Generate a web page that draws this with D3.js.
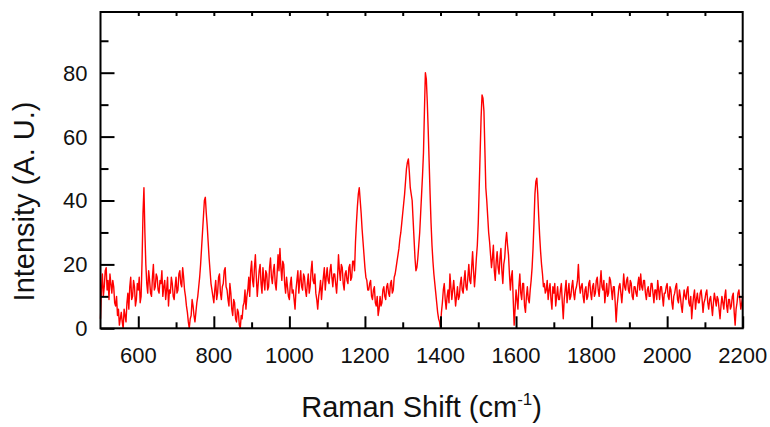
<!DOCTYPE html>
<html>
<head>
<meta charset="utf-8">
<script src="https://cdn.jsdelivr.net/npm/d3@7/dist/d3.min.js"></script>
<style>
  html, body { margin: 0; padding: 0; background: #fff; }
  svg { display: block; }
  text { font-family: "Liberation Sans", Arial, sans-serif; fill: #111; }
</style>
</head>
<body>
<svg id="chart" width="770" height="427"></svg>
<script>
// Raman shift samples (cm^-1)
const shift = [
  500,502.5,505,507.5,510,512.5,515,517.5,520,522.5,525,527.5,530,532.5,535,537.5,540,542.5,545,547.5,550,552.5,555,557.5,560,562.5,565,567.5,570,572.5,575,577.5,580,582.5,585,587.5,590,592.5,595,597.5,
  600,602.5,605,607.5,610,612.5,615,617.5,620,622.5,625,627.5,630,632.5,635,637.5,640,642.5,645,647.5,650,652.5,655,657.5,660,662.5,665,667.5,670,672.5,675,677.5,680,682.5,685,687.5,690,692.5,695,697.5,
  700,702.5,705,707.5,710,712.5,715,717.5,720,722.5,725,727.5,730,732.5,735,737.5,740,742.5,745,747.5,750,752.5,755,757.5,760,762.5,765,767.5,770,772.5,775,777.5,780,782.5,785,787.5,790,792.5,795,797.5,
  800,802.5,805,807.5,810,812.5,815,817.5,820,822.5,825,827.5,830,832.5,835,837.5,840,842.5,845,847.5,850,852.5,855,857.5,860,862.5,865,867.5,870,872.5,875,877.5,880,882.5,885,887.5,890,892.5,895,897.5,
  900,902.5,905,907.5,910,912.5,915,917.5,920,922.5,925,927.5,930,932.5,935,937.5,940,942.5,945,947.5,950,952.5,955,957.5,960,962.5,965,967.5,970,972.5,975,977.5,980,982.5,985,987.5,990,992.5,995,997.5,
  1000,1002.5,1005,1007.5,1010,1012.5,1015,1017.5,1020,1022.5,1025,1027.5,1030,1032.5,1035,1037.5,1040,1042.5,1045,1047.5,1050,1052.5,1055,1057.5,1060,1062.5,1065,1067.5,1070,1072.5,1075,1077.5,1080,1082.5,1085,1087.5,1090,1092.5,1095,1097.5,
  1100,1102.5,1105,1107.5,1110,1112.5,1115,1117.5,1120,1122.5,1125,1127.5,1130,1132.5,1135,1137.5,1140,1142.5,1145,1147.5,1150,1152.5,1155,1157.5,1160,1162.5,1165,1167.5,1170,1172.5,1175,1177.5,1180,1182.5,1185,1187.5,1190,1192.5,1195,1197.5,
  1200,1202.5,1205,1207.5,1210,1212.5,1215,1217.5,1220,1222.5,1225,1227.5,1230,1232.5,1235,1237.5,1240,1242.5,1245,1247.5,1250,1252.5,1255,1257.5,1260,1262.5,1265,1267.5,1270,1272.5,1275,1277.5,1280,1282.5,1285,1287.5,1290,1292.5,1295,1297.5,
  1300,1302.5,1305,1307.5,1310,1312.5,1315,1317.5,1320,1322.5,1325,1327.5,1330,1332.5,1335,1337.5,1340,1342.5,1345,1347.5,1350,1352.5,1355,1357.5,1360,1362.5,1365,1367.5,1370,1372.5,1375,1377.5,1380,1382.5,1385,1387.5,1390,1392.5,1395,1397.5,
  1400,1402.5,1405,1407.5,1410,1412.5,1415,1417.5,1420,1422.5,1425,1427.5,1430,1432.5,1435,1437.5,1440,1442.5,1445,1447.5,1450,1452.5,1455,1457.5,1460,1462.5,1465,1467.5,1470,1472.5,1475,1477.5,1480,1482.5,1485,1487.5,1490,1492.5,1495,1497.5,
  1500,1502.5,1505,1507.5,1510,1512.5,1515,1517.5,1520,1522.5,1525,1527.5,1530,1532.5,1535,1537.5,1540,1542.5,1545,1547.5,1550,1552.5,1555,1557.5,1560,1562.5,1565,1567.5,1570,1572.5,1575,1577.5,1580,1582.5,1585,1587.5,1590,1592.5,1595,1597.5,
  1600,1602.5,1605,1607.5,1610,1612.5,1615,1617.5,1620,1622.5,1625,1627.5,1630,1632.5,1635,1637.5,1640,1642.5,1645,1647.5,1650,1652.5,1655,1657.5,1660,1662.5,1665,1667.5,1670,1672.5,1675,1677.5,1680,1682.5,1685,1687.5,1690,1692.5,1695,1697.5,
  1700,1702.5,1705,1707.5,1710,1712.5,1715,1717.5,1720,1722.5,1725,1727.5,1730,1732.5,1735,1737.5,1740,1742.5,1745,1747.5,1750,1752.5,1755,1757.5,1760,1762.5,1765,1767.5,1770,1772.5,1775,1777.5,1780,1782.5,1785,1787.5,1790,1792.5,1795,1797.5,
  1800,1802.5,1805,1807.5,1810,1812.5,1815,1817.5,1820,1822.5,1825,1827.5,1830,1832.5,1835,1837.5,1840,1842.5,1845,1847.5,1850,1852.5,1855,1857.5,1860,1862.5,1865,1867.5,1870,1872.5,1875,1877.5,1880,1882.5,1885,1887.5,1890,1892.5,1895,1897.5,
  1900,1902.5,1905,1907.5,1910,1912.5,1915,1917.5,1920,1922.5,1925,1927.5,1930,1932.5,1935,1937.5,1940,1942.5,1945,1947.5,1950,1952.5,1955,1957.5,1960,1962.5,1965,1967.5,1970,1972.5,1975,1977.5,1980,1982.5,1985,1987.5,1990,1992.5,1995,1997.5,
  2000,2002.5,2005,2007.5,2010,2012.5,2015,2017.5,2020,2022.5,2025,2027.5,2030,2032.5,2035,2037.5,2040,2042.5,2045,2047.5,2050,2052.5,2055,2057.5,2060,2062.5,2065,2067.5,2070,2072.5,2075,2077.5,2080,2082.5,2085,2087.5,2090,2092.5,2095,2097.5,
  2100,2102.5,2105,2107.5,2110,2112.5,2115,2117.5,2120,2122.5,2125,2127.5,2130,2132.5,2135,2137.5,2140,2142.5,2145,2147.5,2150,2152.5,2155,2157.5,2160,2162.5,2165,2167.5,2170,2172.5,2175,2177.5,2180,2182.5,2185,2187.5,2190,2192.5,2195,2197.5,
  2200
];

// Intensity (A. U.)
const intensity = [
  3,12,17,10,13,18,19,12,15,9,17,14,11,15,13,8,7,10,4,6,1,3,5,2,0,6,4,2,8,11,6,13,16,9,10,15,13,7,9,14,
  12,16,8,10,21,36,44,30,20,14,11,18,15,11,10,16,20,12,13,17,16,12,11,15,14,18,10,13,15,9,12,16,7,12,11,16,14,10,9,13,
  16,11,12,17,18,14,13,19,16,12,10,7,5,2,0,3,4,9,7,4,2,5,8,10,13,16,20,25,30,35,40,41,36,32,27,22,18,14,12,10,
  8,12,15,9,11,16,17,11,9,13,14,18,19,13,12,9,7,14,11,6,4,9,8,3,2,6,5,1,0,4,3,7,8,12,6,10,12,16,10,18,
  21,15,13,19,23,16,10,14,18,20,14,11,19,15,12,18,17,12,13,19,22,16,14,18,20,14,12,17,23,18,25,19,15,21,20,14,11,16,13,10,
  9,14,16,11,12,9,6,12,15,18,11,15,18,13,12,17,16,12,10,14,17,11,13,18,21,15,14,17,11,9,6,10,12,15,9,13,16,19,12,16,
  19,15,14,18,20,16,13,17,17,14,11,16,23,18,15,20,19,14,12,17,18,15,14,19,20,15,16,21,21,18,27,33,38,42,44,40,36,31,27,23,
  19,16,15,12,12,14,15,10,9,12,13,8,7,10,4,6,10,7,8,12,13,10,9,13,14,11,10,14,15,11,12,16,17,19,21,23,25,28,30,33,
  36,39,42,46,50,52,53,49,44,42,40,34,28,22,18,19,22,26,30,36,42,48,55,68,80,78,71,62,52,42,33,26,21,17,14,11,8,5,3,2,
  0,5,8,12,14,9,6,10,12,8,17,13,9,12,15,11,7,10,13,9,10,14,16,12,11,15,18,13,12,16,20,15,14,19,24,18,13,17,22,26,
  33,44,55,66,73,72,68,56,44,40,35,30,27,23,19,22,26,18,15,21,24,19,17,22,25,18,14,20,22,27,30,26,23,17,12,16,18,9,1,6,
  12,9,6,13,17,11,9,14,14,7,5,10,13,9,8,12,15,19,25,33,42,46,47,42,35,29,24,20,17,13,14,11,12,15,9,12,14,9,6,13,
  11,14,7,10,13,9,9,12,14,8,3,9,12,15,8,11,14,9,10,13,15,11,9,12,13,15,20,14,11,13,14,10,8,12,13,9,10,14,15,11,
  9,13,14,10,11,15,16,12,10,14,18,13,12,15,8,11,14,10,11,16,15,12,9,13,13,8,2,7,10,13,14,11,8,12,17,13,12,15,16,12,
  11,15,14,10,9,13,13,11,10,14,16,12,17,13,12,15,15,11,9,12,13,10,10,14,14,11,8,12,12,9,15,12,9,13,13,10,7,11,11,13,
  14,10,9,13,12,8,6,10,11,13,14,9,8,12,10,7,5,9,12,10,9,12,13,8,7,10,3,7,10,12,6,9,11,8,8,11,12,9,5,8,
  9,11,12,8,6,9,10,7,4,8,11,9,7,10,9,6,3,7,10,8,6,10,12,7,5,9,9,6,7,10,11,5,1,6,8,11,12,9,6,8,
  10
];

const xTicksMajor = [600, 800, 1000, 1200, 1400, 1600, 1800, 2000, 2200];
const xTicksMinor = [700, 900, 1100, 1300, 1500, 1700, 1900, 2100];
const xTicksTop = [600, 700, 800, 900, 1000, 1100, 1200, 1300, 1400, 1500, 1600, 1700, 1800, 1900, 2000, 2100];
const yTicksMajor = [0, 20, 40, 60, 80];
const yTicksMinor = [10, 30, 50, 70, 90];
const yTicksRight = [10, 20, 30, 40, 50, 60, 70, 80, 90];

const xTitle = "Raman Shift (cm";
const xTitleSup = "-1";
const yTitle = "Intensity (A. U.)";

const svg = d3.select("#chart");
const L = 100.5, R = 742.7, T = 12, B = 328.3;
const x = d3.scaleLinear().domain([500, 2200]).range([L, R]);
const y = d3.scaleLinear().domain([0, 99]).range([B, T]);

// data line
const data = shift.map((s, i) => [s, intensity[i]]);
svg.append("path")
  .datum(data)
  .attr("fill", "none")
  .attr("stroke", "#ff0000")
  .attr("stroke-width", 1.4)
  .attr("stroke-linejoin", "round")
  .attr("d", d3.line().x(d => x(d[0])).y(d => y(d[1])));

// axes
const gBottom = svg.append("g").attr("transform", `translate(0,${B})`);
gBottom.call(d3.axisBottom(x).tickValues(xTicksMajor).tickSizeInner(-12).tickSizeOuter(0).tickFormat(""));
gBottom.append("g").call(d3.axisBottom(x).tickValues(xTicksMinor).tickSizeInner(-6).tickSizeOuter(0).tickFormat(""));

const gTop = svg.append("g").attr("transform", `translate(0,${T})`);
gTop.call(d3.axisTop(x).tickValues(xTicksTop).tickSizeInner(-4).tickSizeOuter(0).tickFormat(""));

const gLeft = svg.append("g").attr("transform", `translate(${L},0)`);
gLeft.call(d3.axisLeft(y).tickValues(yTicksMajor).tickSizeInner(-14).tickSizeOuter(0).tickFormat(""));
gLeft.append("g").call(d3.axisLeft(y).tickValues(yTicksMinor).tickSizeInner(-8).tickSizeOuter(0).tickFormat(""));

const gRight = svg.append("g").attr("transform", `translate(${R},0)`);
gRight.call(d3.axisRight(y).tickValues(yTicksRight).tickSizeInner(-4).tickSizeOuter(0).tickFormat(""));

svg.selectAll(".domain").remove();
svg.selectAll(".tick text").remove();
svg.selectAll(".tick line").attr("stroke", "#000").attr("stroke-width", 2);

// frame
svg.append("rect")
  .attr("x", L).attr("y", T).attr("width", R - L).attr("height", B - T)
  .attr("fill", "none").attr("stroke", "#000").attr("stroke-width", 2);

// tick labels
svg.append("g").selectAll("text").data(xTicksMajor).join("text")
  .attr("x", d => x(d)).attr("y", 362.5)
  .attr("text-anchor", "middle").attr("font-size", 22)
  .text(d => d);

svg.append("g").selectAll("text").data(yTicksMajor).join("text")
  .attr("x", 87.5).attr("y", d => y(d)).attr("dy", "0.36em")
  .attr("text-anchor", "end").attr("font-size", 22)
  .text(d => d);

// titles
const xt = svg.append("text")
  .attr("x", (L + R) / 2).attr("y", 417)
  .attr("text-anchor", "middle").attr("font-size", 29);
xt.append("tspan").text(xTitle);
xt.append("tspan").attr("font-size", 17).attr("dy", -12).text(xTitleSup);
xt.append("tspan").attr("dy", 12).text(")");

svg.append("text")
  .attr("transform", `translate(34,201.5) rotate(-90)`)
  .attr("text-anchor", "middle").attr("font-size", 29)
  .text(yTitle);
</script>
</body>
</html>
